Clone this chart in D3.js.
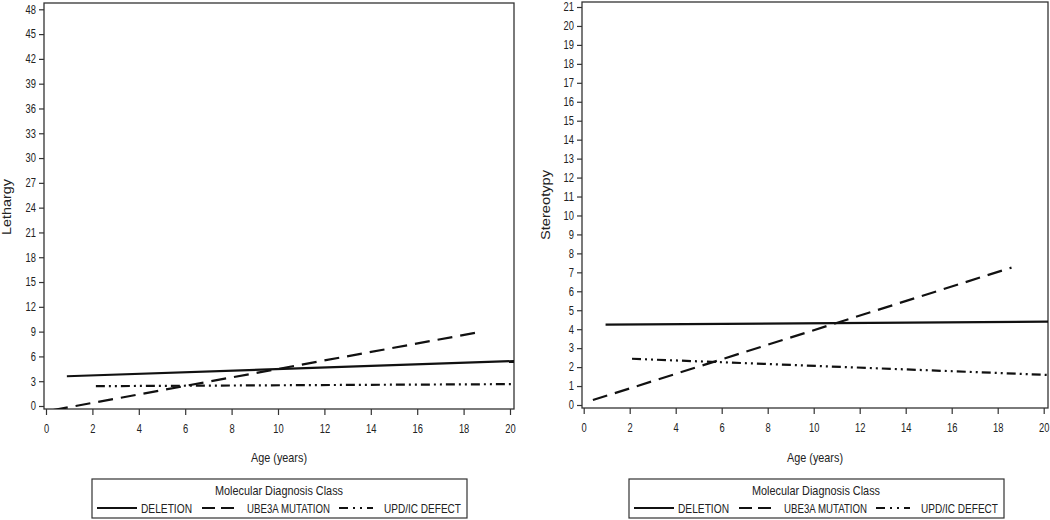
<!DOCTYPE html>
<html>
<head>
<meta charset="utf-8">
<script src="https://cdn.jsdelivr.net/npm/d3@7"></script>
<style>
  body { margin: 0; background: #fff; }
  svg text { font-family: "Liberation Sans", Arial, sans-serif; fill: #222; }
</style>
</head>
<body>
<svg id="chart" width="1050" height="520"></svg>
<script>
// data: each group is a straight fitted line (start, end)
const groups = ['DELETION', 'UBE3A MUTATION', 'UPD/IC DEFECT'];
const xTicks = d3.range(0, 21, 2);

const lethargyTicks = d3.range(0, 49, 3);
const lethargyDeletion = [[0.9, 3.6], [20.3, 5.45]];
const lethargyUbe3a = [[0.3, -0.5], [18.6, 8.9]];
const lethargyUpd = [[2.15, 2.4], [20.3, 2.65]];

const stereoTicks = d3.range(0, 22, 1);
const stereoDeletion = [[0.95, 4.24], [20.3, 4.4]];
const stereoUbe3a = [[0.4, 0.26], [18.6, 7.25]];
const stereoUpd = [[2.1, 2.44], [20.3, 1.58]];

const dashes = ['none', '15,8', '9,4,2,4,2,4'];
const legendDashes = ['none', '13,6', '9,5,2,5,2,5'];

const svg = d3.select('#chart');

// the original uses a narrow font, squeeze text to the measured width
function squeeze(sel, width) {
  sel.attr('textLength', width).attr('lengthAdjust', 'spacingAndGlyphs');
}

function drawPanel(opt) {
  const { left, right, top, bottom } = opt.frame;

  // scales
  const xScale = d3.scaleLinear().domain([0, 20]).range(opt.xRange);
  const yScale = d3.scaleLinear().domain([0, opt.yMax]).range(opt.yRange);

  const g = svg.append('g');

  // clip to frame
  const clipId = 'clip-' + opt.id;
  g.append('clipPath').attr('id', clipId)
    .append('rect')
    .attr('x', left).attr('y', top)
    .attr('width', right - left).attr('height', bottom - top);

  // frame
  g.append('rect')
    .attr('x', left).attr('y', top)
    .attr('width', right - left).attr('height', bottom - top)
    .attr('fill', 'none')
    .attr('stroke', '#333')
    .attr('stroke-width', 1.3);

  // axes
  const yAxis = d3.axisLeft(yScale).tickValues(opt.yTicks).tickSize(5).tickPadding(3);
  const yg = g.append('g')
    .attr('transform', `translate(${left},0)`)
    .call(yAxis);
  yg.select('.domain').remove();

  const xAxis = d3.axisBottom(xScale).tickValues(xTicks).tickSize(6).tickPadding(9);
  const xg = g.append('g')
    .attr('transform', `translate(0,${bottom})`)
    .call(xAxis);
  xg.select('.domain').remove();

  g.selectAll('.tick line').attr('stroke', '#333').attr('stroke-width', 1.2);
  g.selectAll('.tick text')
    .attr('font-size', 12)
    .attr('fill', '#222')
    .style('font-family', '"Liberation Sans", Arial, sans-serif')
    .attr('textLength', function () { return this.textContent.length * 5.2; })
    .attr('lengthAdjust', 'spacingAndGlyphs');

  // axis labels
  g.append('text')
    .attr('x', (left + right) / 2)
    .attr('y', 462)
    .attr('text-anchor', 'middle')
    .attr('font-size', 13)
    .text('Age (years)')
    .call(squeeze, 56);

  g.append('text')
    .attr('transform', `translate(${opt.yLabelX},${opt.yLabelY}) rotate(-90)`)
    .attr('text-anchor', 'middle')
    .attr('font-size', 13)
    .text(opt.yLabel)
    .call(squeeze, opt.yLabelLen);

  // lines
  const lineFunction = d3.line()
    .x(d => xScale(d[0]))
    .y(d => yScale(d[1]));

  g.append('g')
    .attr('clip-path', `url(#${clipId})`)
    .selectAll('path')
    .data(opt.series)
    .enter()
    .append('path')
    .attr('d', d => lineFunction(d))
    .attr('fill', 'none')
    .attr('stroke', '#111')
    .attr('stroke-width', 2.2)
    .attr('stroke-dasharray', (d, i) => dashes[i]);

  // legend
  const lg = g.append('g').attr('transform', `translate(${opt.legendX},479)`);
  lg.append('rect')
    .attr('x', 0).attr('y', 0)
    .attr('width', 375).attr('height', 39)
    .attr('fill', 'none')
    .attr('stroke', '#333')
    .attr('stroke-width', 1.2);
  lg.append('text')
    .attr('x', 187).attr('y', 16)
    .attr('text-anchor', 'middle')
    .attr('font-size', 13)
    .text('Molecular Diagnosis Class')
    .call(squeeze, 128);

  const lineX = [5, 110, 247];
  const lineW = [40, 35, 34];
  const textX = [49, 155, 292];
  const textW = [51, 83, 77];
  const item = lg.selectAll('.item')
    .data(groups)
    .enter()
    .append('g');
  item.append('line')
    .attr('x1', (d, i) => lineX[i]).attr('x2', (d, i) => lineX[i] + lineW[i])
    .attr('y1', 29).attr('y2', 29)
    .attr('stroke', '#111')
    .attr('stroke-width', 2.2)
    .attr('stroke-dasharray', (d, i) => legendDashes[i]);
  item.append('text')
    .attr('x', (d, i) => textX[i])
    .attr('y', 34)
    .attr('font-size', 13)
    .text(d => d)
    .attr('textLength', (d, i) => textW[i])
    .attr('lengthAdjust', 'spacingAndGlyphs');
}

drawPanel({
  id: 'lethargy',
  frame: { left: 44, right: 514, top: 3, bottom: 409 },
  xRange: [46, 510],
  yMax: 48,
  yRange: [406, 9.3],
  yTicks: lethargyTicks,
  yLabel: 'Lethargy',
  yLabelX: 11,
  yLabelY: 207,
  yLabelLen: 56,
  legendX: 92,
  series: [lethargyDeletion, lethargyUbe3a, lethargyUpd]
});

drawPanel({
  id: 'stereotypy',
  frame: { left: 582, right: 1048, top: 2, bottom: 408 },
  xRange: [583.7, 1043.7],
  yMax: 21,
  yRange: [405, 7],
  yTicks: stereoTicks,
  yLabel: 'Stereotypy',
  yLabelX: 550,
  yLabelY: 205,
  yLabelLen: 70,
  legendX: 629,
  series: [stereoDeletion, stereoUbe3a, stereoUpd]
});
</script>
</body>
</html>
